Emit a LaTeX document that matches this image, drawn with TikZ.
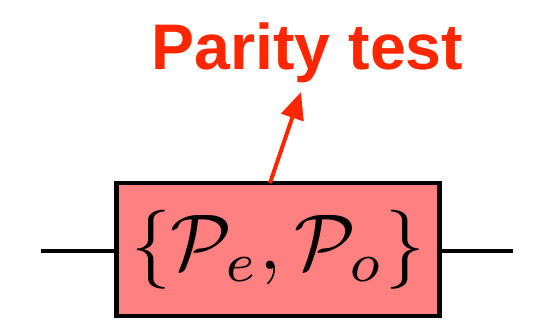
\documentclass[tikz,border=0pt]{standalone}
\usepackage{graphicx}
\usepackage{fontspec}
\newfontfamily\labelfont{Liberation Sans}
\usepackage{tikz}
\usetikzlibrary{arrows.meta}

\definecolor{testred}{RGB}{255,38,0}
\definecolor{boxfill}{RGB}{255,128,128}

\tikzset{
  wire/.style={line width=0.08cm, black},
  projbox/.style={draw=black, line width=0.095cm, fill=boxfill,
    minimum width=6.46cm, minimum height=2.66cm, inner sep=0pt},
  pointer/.style={line width=0.08cm, testred,
    -{Triangle[length=0.54cm, width=0.46cm]}}
}

\begin{document}
\begin{tikzpicture}[x=0.02cm, y=-0.02cm]
            \useasboundingbox (0,0) rectangle (538,332);

            \node[projbox] (proj) at (278,249.5)
                {\scalebox{4.5}{$\{\mathcal{P}_e,\mathcal{P}_o\}$}};
            \node[font=\fontsize{36.7}{40}\selectfont\labelfont\bfseries, text=testred,
                  anchor=base] (label) at (307.5,69) {Parity test};

            \coordinate (win) at (41,251);
            \coordinate (wout) at (513,251);
            \draw[wire] (win) -- (win -| proj.west);
            \draw[wire] (wout -| proj.east) -- (wout);

            \coordinate (tail) at (270,183);
            \coordinate (tip) at (301,92);
            \draw[pointer] (tail) -- (tip);
        \end{tikzpicture}
\end{document}
